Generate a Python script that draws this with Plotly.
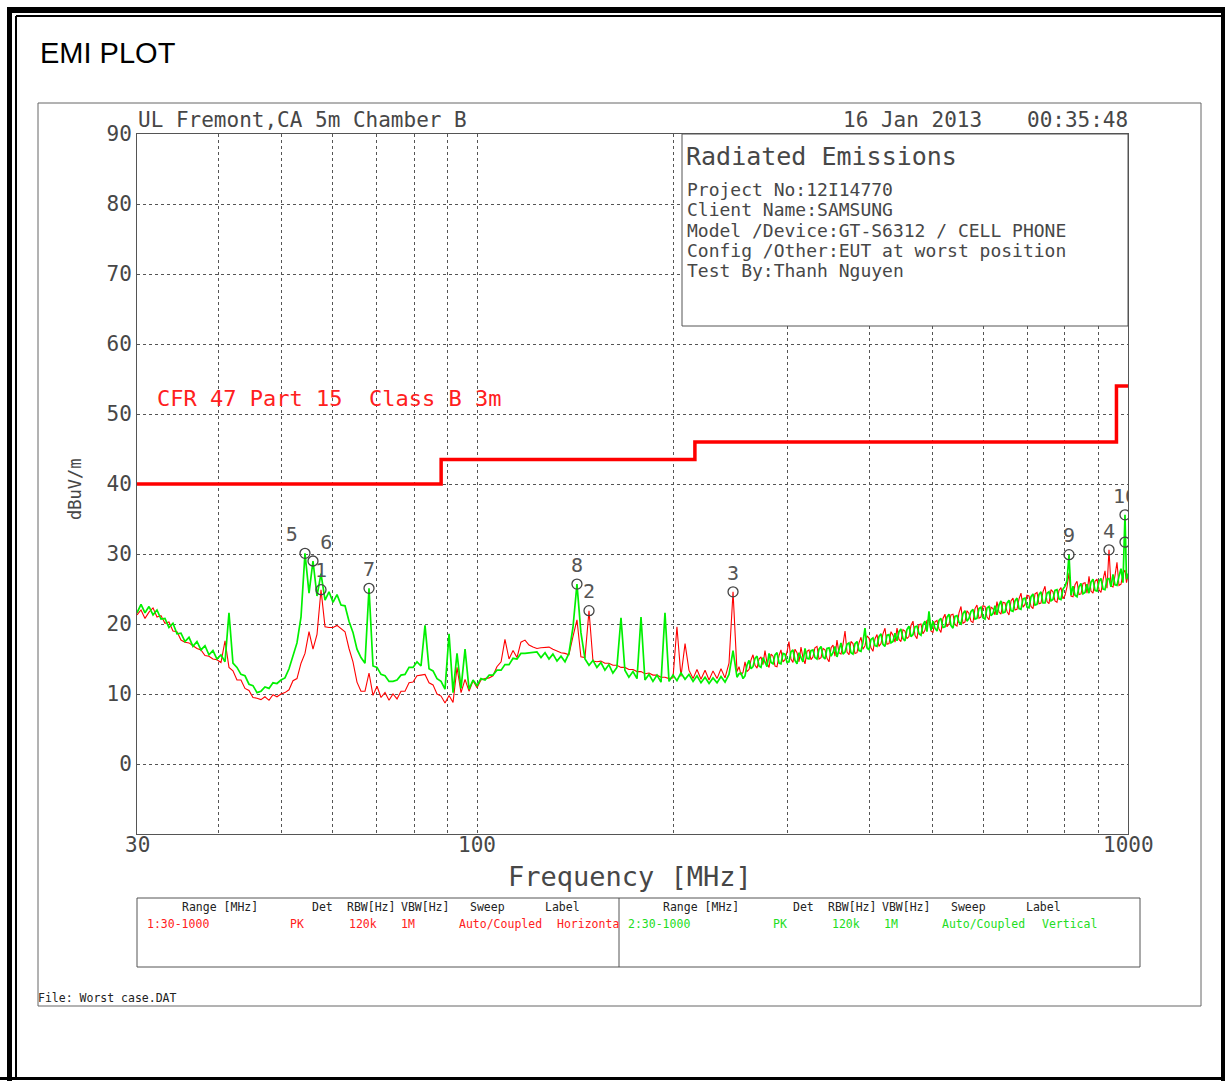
import math
import plotly.graph_objects as go

# ---------------- sweep data (MHz / dBuV/m) ----------------
# 30 - 250 MHz part of the sweep
freq_low = [
    30.00, 30.43, 30.86, 31.30, 31.75, 32.20, 32.66, 33.12, 33.59, 34.07,
    34.56, 35.05, 35.55, 36.06, 36.57, 37.09, 37.62, 38.16, 38.70, 39.25,
    39.81, 40.38, 40.96, 41.54, 42.13, 42.73, 43.34, 43.96, 44.59, 45.22,
    45.87, 46.52, 47.18, 47.86, 48.54, 49.23, 49.93, 50.64, 51.37, 52.10,
    52.84, 53.60, 54.36, 55.14, 55.92, 56.72, 57.53, 58.35, 59.18, 60.02,
    60.88, 61.75, 62.63, 63.52, 64.42, 65.34, 66.27, 67.22, 68.18, 69.15,
    70.14, 71.14, 72.15, 73.18, 74.22, 75.28, 76.35, 77.44, 78.55, 79.67,
    80.80, 81.95, 83.12, 84.31, 85.51, 86.73, 87.97, 89.22, 90.50, 91.79,
    93.09, 94.42, 95.77, 97.13, 98.52, 99.92, 101.3, 102.8, 104.3, 105.7,
    107.2, 108.8, 110.3, 111.9, 113.5, 115.1, 116.7, 118.4, 120.1, 121.8,
    123.5, 125.3, 127.1, 128.9, 130.7, 132.6, 134.5, 136.4, 138.3, 140.3,
    142.3, 144.3, 146.4, 148.5, 150.6, 152.7, 154.9, 157.1, 159.3, 161.6,
    163.9, 166.3, 168.6, 171.0, 173.5, 176.0, 178.5, 181.0, 183.6, 186.2,
    188.9, 191.6, 194.3, 197.1, 199.9, 202.7, 205.6, 208.6, 211.5, 214.6,
    217.6, 220.7, 223.9, 227.1, 230.3, 233.6, 236.9, 240.3, 243.7, 247.2,
]
# 250 - 1000 MHz part of the sweep (finer step)
freq_band = [
    250.7, 252.5, 254.3, 256.1, 257.9, 259.7, 261.6, 263.5, 265.3, 267.2,
    269.1, 271.0, 272.9, 274.8, 276.8, 278.8, 280.8, 282.8, 284.8, 286.8,
    288.8, 290.9, 292.9, 295.0, 297.1, 299.2, 301.3, 303.4, 305.6, 307.8,
    310.0, 312.2, 314.4, 316.6, 318.9, 321.2, 323.4, 325.7, 328.0, 330.3,
    332.7, 335.1, 337.5, 339.9, 342.3, 344.7, 347.2, 349.7, 352.1, 354.6,
    357.1, 359.6, 362.2, 364.8, 367.4, 370.0, 372.6, 375.2, 377.9, 380.6,
    383.3, 386.0, 388.8, 391.5, 394.3, 397.1, 399.9, 402.7, 405.6, 408.5,
    411.4, 414.3, 417.3, 420.2, 423.2, 426.2, 429.3, 432.3, 435.4, 438.5,
    441.6, 444.7, 447.8, 451.0, 454.2, 457.4, 460.7, 464.0, 467.3, 470.6,
    473.9, 477.3, 480.7, 484.1, 487.5, 491.0, 494.5, 498.0, 501.5, 505.1,
    508.7, 512.3, 515.9, 519.6, 523.3, 527.0, 530.8, 534.5, 538.3, 542.1,
    546.0, 549.9, 553.8, 557.7, 561.7, 565.7, 569.7, 573.7, 577.8, 581.9,
    586.0, 590.2, 594.4, 598.6, 602.9, 607.2, 611.5, 615.8, 620.2, 624.6,
    629.0, 633.5, 638.0, 642.5, 647.1, 651.7, 656.3, 661.0, 665.7, 670.4,
    675.2, 680.0, 684.8, 689.7, 694.6, 699.5, 704.5, 709.5, 714.5, 719.6,
    724.7, 729.8, 735.0, 740.2, 745.5, 750.8, 756.1, 761.5, 766.9, 772.3,
    777.8, 783.3, 788.9, 794.5, 800.2, 805.9, 811.6, 817.4, 823.2, 829.0,
    834.9, 840.8, 846.8, 852.8, 858.9, 865.0, 871.1, 877.3, 883.5, 889.8,
    896.1, 902.5, 908.9, 915.4, 921.9, 928.4, 935.0, 941.6, 948.3, 955.0,
    961.8, 968.6, 975.5, 982.4, 989.4, 994.7, 1000.0,
]

# Trace 1: horizontal antenna polarisation
horizontal_low = [
    21.3, 22.0, 20.8, 21.7, 22.3, 21.0, 21.2, 20.1, 20.3, 19.0,
    18.9, 17.7, 17.4, 17.3, 16.9, 16.5, 16.3, 15.5, 15.4, 15.0,
    14.9, 14.5, 17.6, 13.8, 13.3, 12.0, 12.0, 10.8, 10.5, 9.5,
    9.4, 9.2, 9.6, 9.1, 9.9, 9.6, 10.0, 10.2, 10.6, 11.9,
    12.2, 14.4, 15.8, 18.9, 16.4, 18.5, 24.9, 19.6, 19.5, 19.5,
    19.8, 19.3, 18.9, 16.5, 14.6, 11.7, 10.4, 10.4, 13.0, 9.8,
    11.1, 9.5, 10.2, 9.1, 10.0, 9.3, 10.4, 10.4, 11.6, 11.7,
    12.6, 12.7, 12.8, 11.6, 11.3, 10.0, 9.7, 8.7, 9.8, 8.8,
    13.8, 10.2, 12.1, 10.4, 11.9, 10.9, 12.0, 12.2, 12.3, 12.6,
    13.9, 14.6, 17.8, 15.0, 16.2, 15.2, 17.4, 17.7, 17.0, 16.7,
    16.5, 16.6, 16.6, 16.7, 16.4, 16.1, 15.9, 15.8, 15.6, 18.2,
    20.6, 15.3, 15.2, 21.9, 14.7, 14.6, 14.7, 14.4, 14.4, 14.1,
    14.1, 13.8, 13.8, 13.5, 13.5, 13.2, 13.2, 12.9, 13.0, 12.7,
    12.7, 12.4, 12.4, 12.2, 12.3, 19.6, 12.5, 17.2, 13.4, 12.2,
    13.5, 12.1, 13.4, 12.0, 13.3, 12.2, 13.6, 12.3, 14.4, 24.6,
]
horizontal_band = [
    13.2, 13.9, 12.7, 13.1, 14.6, 13.2, 13.5, 14.9, 15.6, 14.1,
    13.7, 15.0, 15.3, 14.2, 16.2, 14.4, 13.8, 15.7, 15.4, 14.0,
    13.9, 15.5, 16.3, 14.6, 14.9, 16.0, 17.5, 15.0, 14.5, 16.4,
    15.9, 14.6, 16.7, 15.2, 14.3, 16.1, 16.3, 14.9, 15.3, 16.6,
    16.8, 15.0, 15.2, 16.5, 16.3, 15.1, 14.6, 16.6, 17.0, 15.4,
    17.7, 15.9, 15.7, 17.1, 19.0, 16.0, 15.6, 17.5, 17.2, 15.8,
    15.9, 17.3, 18.1, 16.4, 16.9, 18.3, 18.0, 16.6, 16.1, 17.9,
    18.5, 16.8, 17.2, 18.6, 19.4, 17.1, 17.2, 18.9, 18.4, 17.4,
    19.4, 17.8, 17.5, 19.2, 19.0, 17.9, 18.2, 19.8, 20.4, 18.4,
    17.9, 19.9, 20.0, 18.6, 19.1, 20.5, 20.6, 19.0, 18.8, 20.3,
    20.5, 19.3, 18.8, 20.8, 21.4, 19.6, 20.0, 21.3, 21.4, 19.9,
    19.7, 21.6, 22.5, 20.1, 20.3, 21.9, 21.5, 20.4, 20.2, 22.2,
    22.7, 20.8, 21.0, 22.6, 22.5, 21.0, 20.6, 22.4, 22.2, 21.3,
    23.2, 21.7, 21.4, 23.1, 23.0, 21.8, 21.3, 23.3, 23.7, 22.0,
    22.1, 23.6, 24.4, 22.4, 22.8, 24.1, 24.0, 22.5, 22.2, 24.3,
    24.5, 22.9, 23.0, 24.6, 25.4, 23.2, 22.9, 24.9, 24.6, 23.3,
    23.1, 24.8, 25.2, 23.6, 24.1, 25.3, 27.3, 24.0, 23.9, 25.6,
    26.1, 24.2, 24.3, 25.8, 25.9, 24.4, 26.8, 24.7, 24.4, 26.1,
    26.4, 24.9, 24.5, 26.3, 27.6, 25.1, 30.6, 25.4, 25.3, 26.9,
    28.8, 25.5, 25.7, 27.2, 27.7, 25.9, 27.0,
]

# Trace 2: vertical antenna polarisation
vertical_low = [
    21.6, 22.8, 21.6, 22.5, 21.3, 22.0, 20.7, 20.8, 19.5, 20.1,
    18.6, 18.7, 17.5, 18.1, 16.8, 17.5, 16.3, 16.9, 15.6, 16.2,
    15.0, 15.6, 14.6, 21.6, 14.4, 13.8, 12.8, 12.6, 11.4, 11.2,
    10.2, 10.4, 11.0, 10.8, 11.6, 11.5, 12.0, 12.3, 13.6, 15.4,
    17.3, 21.0, 30.1, 24.4, 29.0, 24.0, 27.2, 23.4, 24.6, 23.1,
    24.2, 22.7, 22.6, 20.4, 18.8, 16.4, 15.2, 14.4, 25.1, 14.0,
    13.8, 12.8, 12.6, 11.8, 11.8, 12.0, 12.7, 12.8, 13.8, 13.8,
    14.6, 14.0, 19.8, 13.6, 13.3, 12.2, 11.8, 10.7, 18.6, 10.2,
    15.8, 10.8, 16.4, 10.7, 12.0, 11.2, 12.2, 12.0, 12.7, 12.7,
    13.4, 13.4, 14.2, 14.2, 15.1, 15.0, 15.8, 15.8, 15.9, 15.9,
    16.0, 15.2, 15.9, 15.0, 15.7, 14.7, 15.4, 14.6, 15.8, 19.5,
    25.7, 18.8, 15.0, 14.1, 14.8, 13.8, 14.5, 13.4, 14.2, 13.0,
    13.8, 20.9, 13.4, 12.4, 13.2, 12.2, 21.0, 12.0, 12.8, 11.8,
    12.7, 11.7, 21.6, 11.8, 12.7, 11.9, 13.0, 12.1, 12.8, 11.8,
    12.6, 11.6, 12.4, 11.5, 12.3, 11.6, 12.5, 11.7, 12.8, 16.2,
]
vertical_band = [
    12.4, 12.9, 13.0, 12.2, 12.6, 14.1, 14.8, 13.6, 13.9, 15.1,
    15.4, 14.0, 13.8, 15.2, 14.6, 13.9, 15.8, 14.5, 14.3, 15.6,
    15.9, 14.4, 14.3, 15.8, 15.7, 14.5, 14.6, 16.0, 16.3, 14.8,
    14.3, 15.9, 15.2, 14.6, 16.5, 15.1, 15.0, 16.2, 16.3, 15.2,
    15.0, 16.4, 16.8, 15.3, 15.0, 16.5, 16.6, 15.4, 15.9, 16.8,
    15.3, 16.2, 17.3, 15.7, 16.0, 17.1, 17.3, 15.9, 15.7, 17.2,
    17.5, 16.2, 16.1, 17.4, 19.4, 16.6, 16.3, 17.8, 18.0, 16.9,
    16.8, 18.2, 18.6, 17.1, 16.8, 18.4, 18.5, 17.3, 17.5, 18.7,
    17.6, 18.9, 19.3, 17.9, 17.6, 19.2, 19.7, 18.2, 18.5, 19.6,
    19.7, 18.6, 18.4, 19.9, 20.4, 18.9, 21.8, 19.1, 20.4, 19.4,
    19.0, 20.5, 20.8, 19.5, 19.6, 21.0, 21.4, 19.8, 19.4, 21.1,
    21.2, 20.2, 20.0, 21.5, 21.9, 20.4, 20.8, 21.8, 22.1, 20.7,
    20.8, 22.2, 22.4, 20.9, 20.7, 22.3, 22.5, 21.2, 21.5, 22.6,
    21.3, 22.7, 23.3, 21.6, 21.7, 23.0, 23.4, 21.9, 21.8, 23.3,
    23.7, 22.2, 22.1, 23.6, 23.7, 22.4, 22.3, 23.9, 24.3, 22.7,
    22.8, 24.2, 24.6, 23.0, 23.0, 24.4, 24.6, 23.3, 23.5, 24.8,
    24.9, 23.6, 23.5, 25.0, 25.4, 26.2, 29.9, 24.1, 25.4, 24.1,
    23.9, 25.3, 25.8, 24.3, 24.5, 25.7, 24.4, 26.0, 26.4, 24.8,
    24.7, 26.1, 26.5, 25.0, 24.9, 26.4, 26.5, 25.3, 27.1, 25.6,
    25.5, 26.8, 27.9, 25.9, 35.6, 26.4, 27.2,
]

# FCC Part 15 Class B (3 m) radiated limit
limit_freq_mhz = [30, 88, 216, 960, 1000]
limit_level = [40, 43.5, 46, 54, 54]

# peak markers
marker_ids = ["5", "6", "1", "7", "8", "2", "3", "9", "4", "10", ""]
marker_freq = [54.36, 55.92, 57.53, 68.18, 142.3, 148.5, 247.2, 811.6, 935.0, 989.4, 989.4]
marker_level = [30.1, 29.0, 24.9, 25.1, 25.7, 21.9, 24.6, 29.9, 30.6, 35.6, 31.7]
marker_text_pos = ["top left", "top right"] + ["top center"] * 9

# axis ticks
y_ticks = [0, 10, 20, 30, 40, 50, 60, 70, 80, 90]
x_grid = [30, 40, 50, 60, 70, 80, 90, 100, 200, 300, 400, 500, 600, 700, 800, 900, 1000]
x_labels = [30, 100, 1000]

freq_mhz = freq_low + freq_band
level_horizontal = horizontal_low + horizontal_band
level_vertical = vertical_low + vertical_band

# ---------------- page geometry (pixels) ----------------
W, H = 1225, 1081
PL, PR, PT, PB = 137, 1128, 134, 834


def px(x):
    return (x - PL) / (PR - PL)


def py(y):
    return (PB - y) / (PB - PT)


MONO = "DejaVu Sans Mono"
INK = "#474747"
GRID = "#555555"

fig = go.Figure()

fig.add_trace(go.Scatter(
    x=limit_freq_mhz, y=limit_level, mode="lines", line_shape="hv",
    line=dict(color="#ff0000", width=3.5), hoverinfo="skip"))
fig.add_trace(go.Scatter(
    x=freq_mhz, y=level_horizontal, mode="lines",
    line=dict(color="#ff0000", width=1.1), name="Horizontal"))
fig.add_trace(go.Scatter(
    x=freq_mhz, y=level_vertical, mode="lines",
    line=dict(color="#00f000", width=1.7), name="Vertical"))
fig.add_trace(go.Scatter(
    x=marker_freq, y=marker_level, mode="markers+text",
    marker=dict(symbol="circle-open", size=10, color="#444444",
                line=dict(width=1.3, color="#444444")),
    text=marker_ids, textposition=marker_text_pos,
    textfont=dict(family=MONO, size=20, color="#555555"),
    cliponaxis=True, hoverinfo="skip"))

shapes = []
# outer chart frame
shapes.append(dict(type="rect", xref="paper", yref="paper",
                   x0=px(38), x1=px(1201), y0=py(1006), y1=py(103),
                   line=dict(color="#666666", width=1), layer="below"))
# info box in the upper right of the plot
shapes.append(dict(type="rect", xref="paper", yref="paper",
                   x0=px(682), x1=1, y0=py(326), y1=1,
                   fillcolor="white", line=dict(color=GRID, width=1), layer="above"))
# settings table
shapes.append(dict(type="rect", xref="paper", yref="paper",
                   x0=px(137), x1=px(1140), y0=py(967), y1=py(898),
                   line=dict(color=GRID, width=1)))
shapes.append(dict(type="line", xref="paper", yref="paper",
                   x0=px(619), x1=px(619), y0=py(967), y1=py(898),
                   line=dict(color=GRID, width=1)))
# page border (double line at top / left)
border = [
    (9.5, 7, 9.5, 1081, 5), (7, 10, 1225, 10, 6),
    (16, 16, 16, 1078, 2), (16, 16, 1222, 16, 2),
    (1223, 7, 1223, 1081, 4), (0, 1078.5, 1225, 1078.5, 3),
]
for x0, y0, x1, y1, w in border:
    shapes.append(dict(type="line", xref="paper", yref="paper",
                       x0=px(x0), x1=px(x1), y0=py(y0), y1=py(y1),
                       line=dict(color="black", width=w)))


def note(text, x, y, size, color=INK, family=MONO, xanchor="left", angle=0):
    return dict(text=text, x=px(x), y=py(y), xref="paper", yref="paper",
                xanchor=xanchor, yanchor="middle", showarrow=False,
                textangle=angle, font=dict(family=family, size=size, color=color))


ann = [
    note("EMI PLOT", 38, 53, 29, color="black", family="Liberation Sans"),
    note("UL Fremont,CA 5m Chamber B", 136, 120, 21),
    note("16 Jan 2013", 841, 120, 21),
    note("00:35:48", 1130, 120, 21, xanchor="right"),
    note("Radiated Emissions", 684, 156, 25),
    note("Project No:12I14770", 685, 190, 18),
    note("Client Name:SAMSUNG", 685, 210, 18),
    note("Model /Device:GT-S6312 / CELL PHONE", 685, 230, 18),
    note("Config /Other:EUT at worst position", 685, 250, 18),
    note("Test By:Thanh Nguyen", 685, 270, 18),
    note("CFR 47 Part 15  Class B 3m", 155, 398, 22, color="#ff2020"),
    note("dBuV/m", 75, 490, 17, xanchor="center", angle=-90),
    note("Frequency [MHz]", 630, 876, 27, xanchor="center"),
    note("File: Worst case.DAT", 36, 998, 11.5, color="#222222"),
]

# frequency tick labels sit just under the plot frame
for v in x_labels:
    ann.append(dict(text=str(v), x=math.log10(v), y=py(845), xref="x", yref="paper",
                    xanchor="center", yanchor="middle", showarrow=False,
                    font=dict(family=MONO, size=21, color=INK)))

# settings table text
header_cells = [("Range [MHz]", 180), ("Det", 310), ("RBW[Hz]", 345),
                ("VBW[Hz]", 399), ("Sweep", 468), ("Label", 543)]
rows = [
    (0, "#ff2020", [("1:30-1000", 145), ("PK", 288), ("120k", 347), ("1M", 399),
                    ("Auto/Coupled", 457), ("Horizonta", 555)]),
    (481, "#22dd22", [("2:30-1000", 626), ("PK", 771), ("120k", 830), ("1M", 882),
                      ("Auto/Coupled", 940), ("Vertical", 1040)]),
]
for shift, color, cells in rows:
    for label, x in header_cells:
        ann.append(note(label, x + shift, 907, 11.5, color="#222222"))
    for label, x in cells:
        ann.append(note(label, x, 924, 11.5, color=color))

fig.update_layout(
    width=W, height=H,
    margin=dict(l=PL, r=W - PR, t=PT, b=H - PB, pad=0),
    paper_bgcolor="white", plot_bgcolor="white",
    showlegend=False,
    font=dict(family=MONO, color=INK),
    shapes=shapes, annotations=ann,
    xaxis=dict(
        type="log", range=[math.log10(30), math.log10(1000)],
        tickvals=x_grid, showticklabels=False,
        showgrid=True, gridcolor=GRID, gridwidth=1, griddash="3px,3px",
        showline=True, mirror=True, linecolor=GRID, linewidth=1,
        ticks="", zeroline=False,
    ),
    yaxis=dict(
        range=[-10, 90], tickvals=y_ticks,
        showgrid=True, gridcolor=GRID, gridwidth=1, griddash="3px,3px",
        showline=True, mirror=True, linecolor=GRID, linewidth=1,
        ticks="", zeroline=False,
        tickfont=dict(family=MONO, size=21, color=INK),
    ),
)

fig.write_html("out.html", config={"displayModeBar": False},
               post_script="document.body.style.margin='0';")
